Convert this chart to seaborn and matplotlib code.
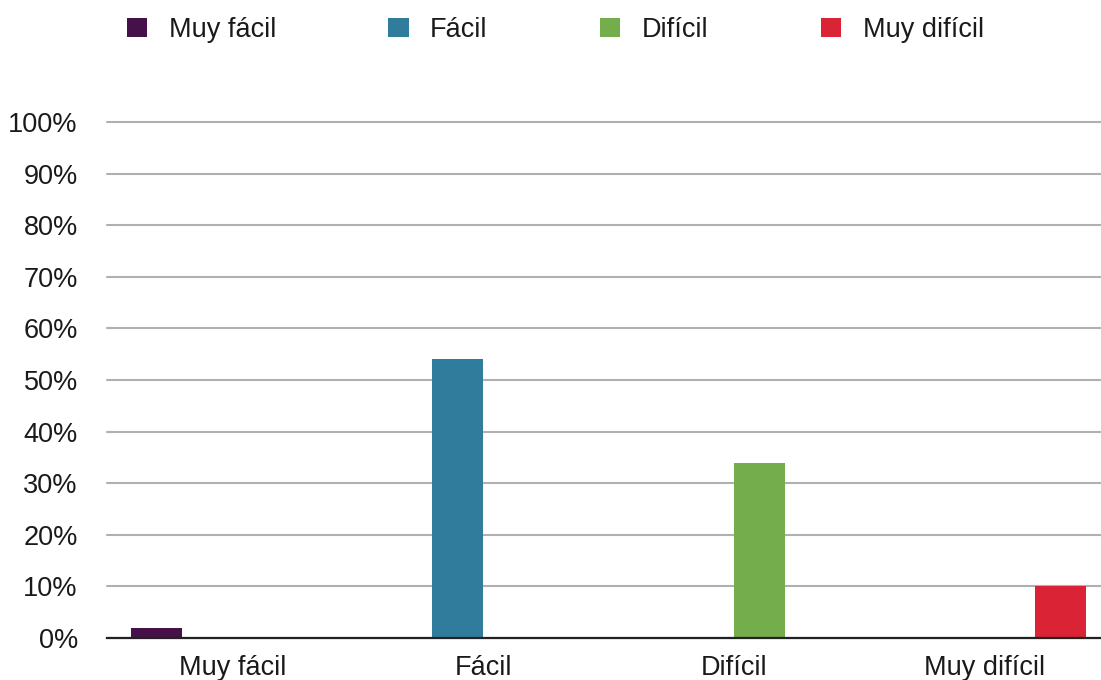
import matplotlib
matplotlib.use("Agg")
import matplotlib.pyplot as plt
import seaborn as sns
import pandas as pd
from matplotlib.ticker import FuncFormatter

# Survey answers: share of responses per difficulty level
categories = ["Muy fácil", "Fácil", "Difícil", "Muy difícil"]
percentages = [2, 54, 34, 10]
colors = ["#461048", "#2f7c9d", "#74ad4c", "#da2334"]
y_ticks = [0, 10, 20, 30, 40, 50, 60, 70, 80, 90, 100]

# Long-form table: each category is its own hue level; other cells are zero
rows = []
for cat, val in zip(categories, percentages):
    for level in categories:
        rows.append({"categoria": cat, "nivel": level, "valor": val if level == cat else 0})
df = pd.DataFrame(rows)

sns.set_theme(style="white")
plt.rcParams["font.family"] = ["Liberation Sans", "DejaVu Sans"]

W, H = 1101, 680
fig = plt.figure(figsize=(W / 100, H / 100), dpi=100)
left_px, right_px, top_px, bottom_px = 107, 1110, 122, 638
ax = fig.add_axes([left_px / W, 1 - bottom_px / H,
                   (right_px - left_px) / W, (bottom_px - top_px) / H])

sns.barplot(data=df, x="categoria", y="valor", hue="nivel",
            order=categories, hue_order=categories, palette=colors,
            width=0.81, linewidth=0, saturation=1, ax=ax, legend=True)

ax.set_xlim(-0.5, 3.5)
ax.set_ylim(0, 100)
ax.set_yticks(y_ticks)
ax.yaxis.set_major_formatter(FuncFormatter(lambda v, _: f"{v:.0f}%"))
ax.set_xlabel("")
ax.set_ylabel("")

ax.grid(axis="y", color="#b0b0b0", linewidth=1.5)
ax.grid(axis="x", visible=False)
for gl in ax.get_ygridlines():
    gl.set_clip_on(False)
ax.set_axisbelow(True)
for side in ["top", "right", "left"]:
    ax.spines[side].set_visible(False)
ax.spines["bottom"].set_color("#222222")
ax.spines["bottom"].set_linewidth(1.6)
ax.spines["bottom"].set_zorder(5)

ax.tick_params(axis="y", length=0, pad=21, labelsize=19.5, labelcolor="#1a1a1a")
ax.tick_params(axis="x", length=0, pad=12, labelsize=19.5, labelcolor="#1a1a1a")

handles, labels = ax.get_legend_handles_labels()
ax.legend(handles, labels, ncol=4, loc="center left",
          bbox_to_anchor=(127 / W, 1 - 30 / H), bbox_transform=fig.transFigure,
          frameon=False, fontsize=19.5, handlelength=0.74, handleheight=0.74,
          handletextpad=0.8, columnspacing=4.15, borderpad=0, borderaxespad=0,
          labelcolor="#1a1a1a")

fig.savefig("out.png", dpi=100)
